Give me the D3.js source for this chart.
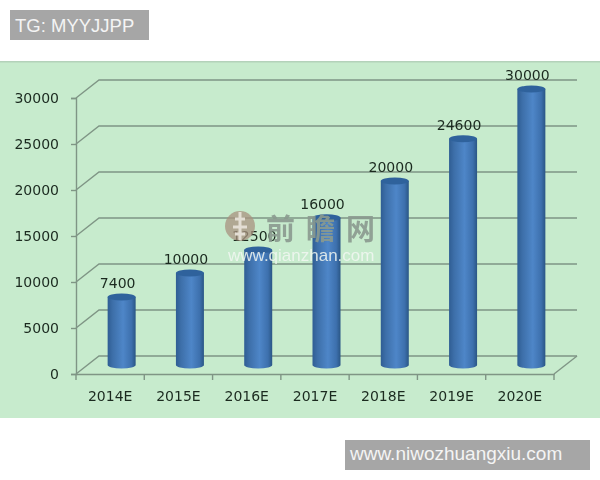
<!DOCTYPE html>
<html>
<head>
<meta charset="utf-8">
<style>
  html, body { margin: 0; padding: 0; background: #fff; }
  svg { display: block; }
  text { font-family: "DejaVu Sans", sans-serif; }
  .soft { filter: blur(0.4px); }
</style>
<script src="https://cdn.jsdelivr.net/npm/d3@7"></script>
</head>
<body>
<svg id="chart" width="600" height="480"></svg>
<script>
const categories = ["2014E", "2015E", "2016E", "2017E", "2018E", "2019E", "2020E"];
const values = [7400, 10000, 12500, 16000, 20000, 24600, 30000];
const yTicks = [0, 5000, 10000, 15000, 20000, 25000, 30000];

const svg = d3.select("#chart");

// green panel
svg.append("rect")
  .attr("x", 0).attr("y", 61).attr("width", 600).attr("height", 357)
  .attr("fill", "#c7ebcd");
svg.append("rect")
  .attr("x", 0).attr("y", 61).attr("width", 600).attr("height", 1.5)
  .attr("fill", "#b4d2ba");

const axisColor = "#7f9585";
const depthX = 23, depthY = -18; // offset of the back wall

const x = d3.scaleBand().domain(categories).range([76, 554]);
const y = d3.scaleLinear().domain([0, 30000]).range([374, 98]);
// bars stand in the middle of the floor, so they have their own baseline
const barY = d3.scaleLinear().domain([0, 30000]).range([365, 89]);

const defs = svg.append("defs");
const grad = defs.append("linearGradient").attr("id", "barFill");
grad.append("stop").attr("offset", "0%").attr("stop-color", "#2f5d93");
grad.append("stop").attr("offset", "18%").attr("stop-color", "#3d6fa9");
grad.append("stop").attr("offset", "55%").attr("stop-color", "#4e86c8");
grad.append("stop").attr("offset", "85%").attr("stop-color", "#3d70ad");
grad.append("stop").attr("offset", "100%").attr("stop-color", "#2a5685");

const chart = svg.append("g").attr("class", "soft");

// back wall gridlines and their slanted side parts
const grid = chart.append("g").attr("fill", "none").attr("stroke", axisColor).attr("stroke-width", 1.4);
grid.selectAll("path")
  .data(yTicks)
  .join("path")
  .attr("d", d => `M${x.range()[0]},${y(d)}L${x.range()[0] + depthX},${y(d) + depthY}H${x.range()[1] + depthX}`);
// floor, right side
grid.append("path")
  .attr("d", `M${x.range()[1]},${y(0)}L${x.range()[1] + depthX},${y(0) + depthY}`);

// axes
const yAxis = chart.append("g")
  .attr("transform", `translate(${x.range()[0]},0)`)
  .call(d3.axisLeft(y).tickValues(yTicks).tickSize(5).tickPadding(12).tickFormat(d3.format("d")));
const xAxis = chart.append("g")
  .attr("transform", `translate(0,${y(0)})`)
  .call(d3.axisBottom(x).tickSize(0).tickPadding(17));
// tick marks sit between the categories
xAxis.selectAll("line.sep")
  .data(d3.range(categories.length + 1).map(i => x.range()[0] + i * x.step()))
  .join("line")
  .attr("class", "sep")
  .attr("x1", d => d).attr("x2", d => d)
  .attr("y1", 0).attr("y2", 6);
[yAxis, xAxis].forEach(a => {
  a.selectAll("path, line").attr("stroke", axisColor).attr("stroke-width", 1.4);
  a.selectAll("text").attr("fill", "#1b2a1f").attr("font-size", 14).attr("font-family", '"DejaVu Sans", sans-serif');
});

// cylinders
const barW = 28, ry = 3.5;
const barX = d => x(d) + x.bandwidth() / 2 + 11.5;
const bars = chart.append("g");
bars.selectAll("path.body")
  .data(categories)
  .join("path")
  .attr("class", "body")
  .attr("fill", "url(#barFill)")
  .attr("d", (d, i) => {
    const l = barX(d) - barW / 2, r = barX(d) + barW / 2;
    return `M${l},${barY(values[i])}L${l},${barY(0)}A${barW / 2},${ry} 0 0 0 ${r},${barY(0)}L${r},${barY(values[i])}Z`;
  });
bars.selectAll("ellipse")
  .data(categories)
  .join("ellipse")
  .attr("cx", d => barX(d))
  .attr("cy", (d, i) => barY(values[i]))
  .attr("rx", barW / 2)
  .attr("ry", ry)
  .attr("fill", "#2f629c");

// value labels
chart.append("g").selectAll("text")
  .data(categories)
  .join("text")
  .attr("x", d => barX(d) - 4)
  .attr("y", (d, i) => barY(values[i]) - 9)
  .attr("text-anchor", "middle")
  .attr("font-size", 14)
  .attr("fill", "#1b2a1f")
  .text((d, i) => values[i]);

// watermark
const mark = chart.append("g");
mark.append("circle").attr("cx", 240).attr("cy", 226).attr("r", 15)
  .attr("fill", "#a8917f").attr("opacity", 0.75);
mark.append("path").attr("d", "M240,212V240M235,219H245M233,227H247M235,234H245")
  .attr("stroke", "#e3ded4").attr("stroke-width", 3).attr("fill", "none");
mark.append("text").attr("x", 266).attr("y", 240)
  .attr("font-size", 29)
  .attr("font-weight", "bold")
  .attr("letter-spacing", 11)
  .style("font-family", '"Noto Sans CJK SC", sans-serif')
  .attr("fill", "#8a9a8f").attr("opacity", 0.9)
  .text("前瞻网");
mark.append("text").attr("x", 228).attr("y", 261)
  .attr("font-size", 17)
  .style("font-family", '"Liberation Sans", sans-serif')
  .attr("fill", "#f2f7f2").attr("opacity", 0.85)
  .text("www.qianzhan.com");

// grey stamps
svg.append("rect").attr("x", 10).attr("y", 10).attr("width", 139).attr("height", 30).attr("fill", "#a6a6a6");
svg.append("text").attr("x", 15).attr("y", 32)
  .attr("font-size", 18.5).style("font-family", '"Liberation Sans", sans-serif')
  .attr("fill", "#f4f4f4").text("TG: MYYJJPP");
svg.append("rect").attr("x", 345).attr("y", 440).attr("width", 245).attr("height", 30).attr("fill", "#a6a6a6");
svg.append("text").attr("x", 350).attr("y", 460)
  .attr("font-size", 19).style("font-family", '"Liberation Sans", sans-serif')
  .attr("fill", "#f4f4f4").text("www.niwozhuangxiu.com");
</script>
</body>
</html>
